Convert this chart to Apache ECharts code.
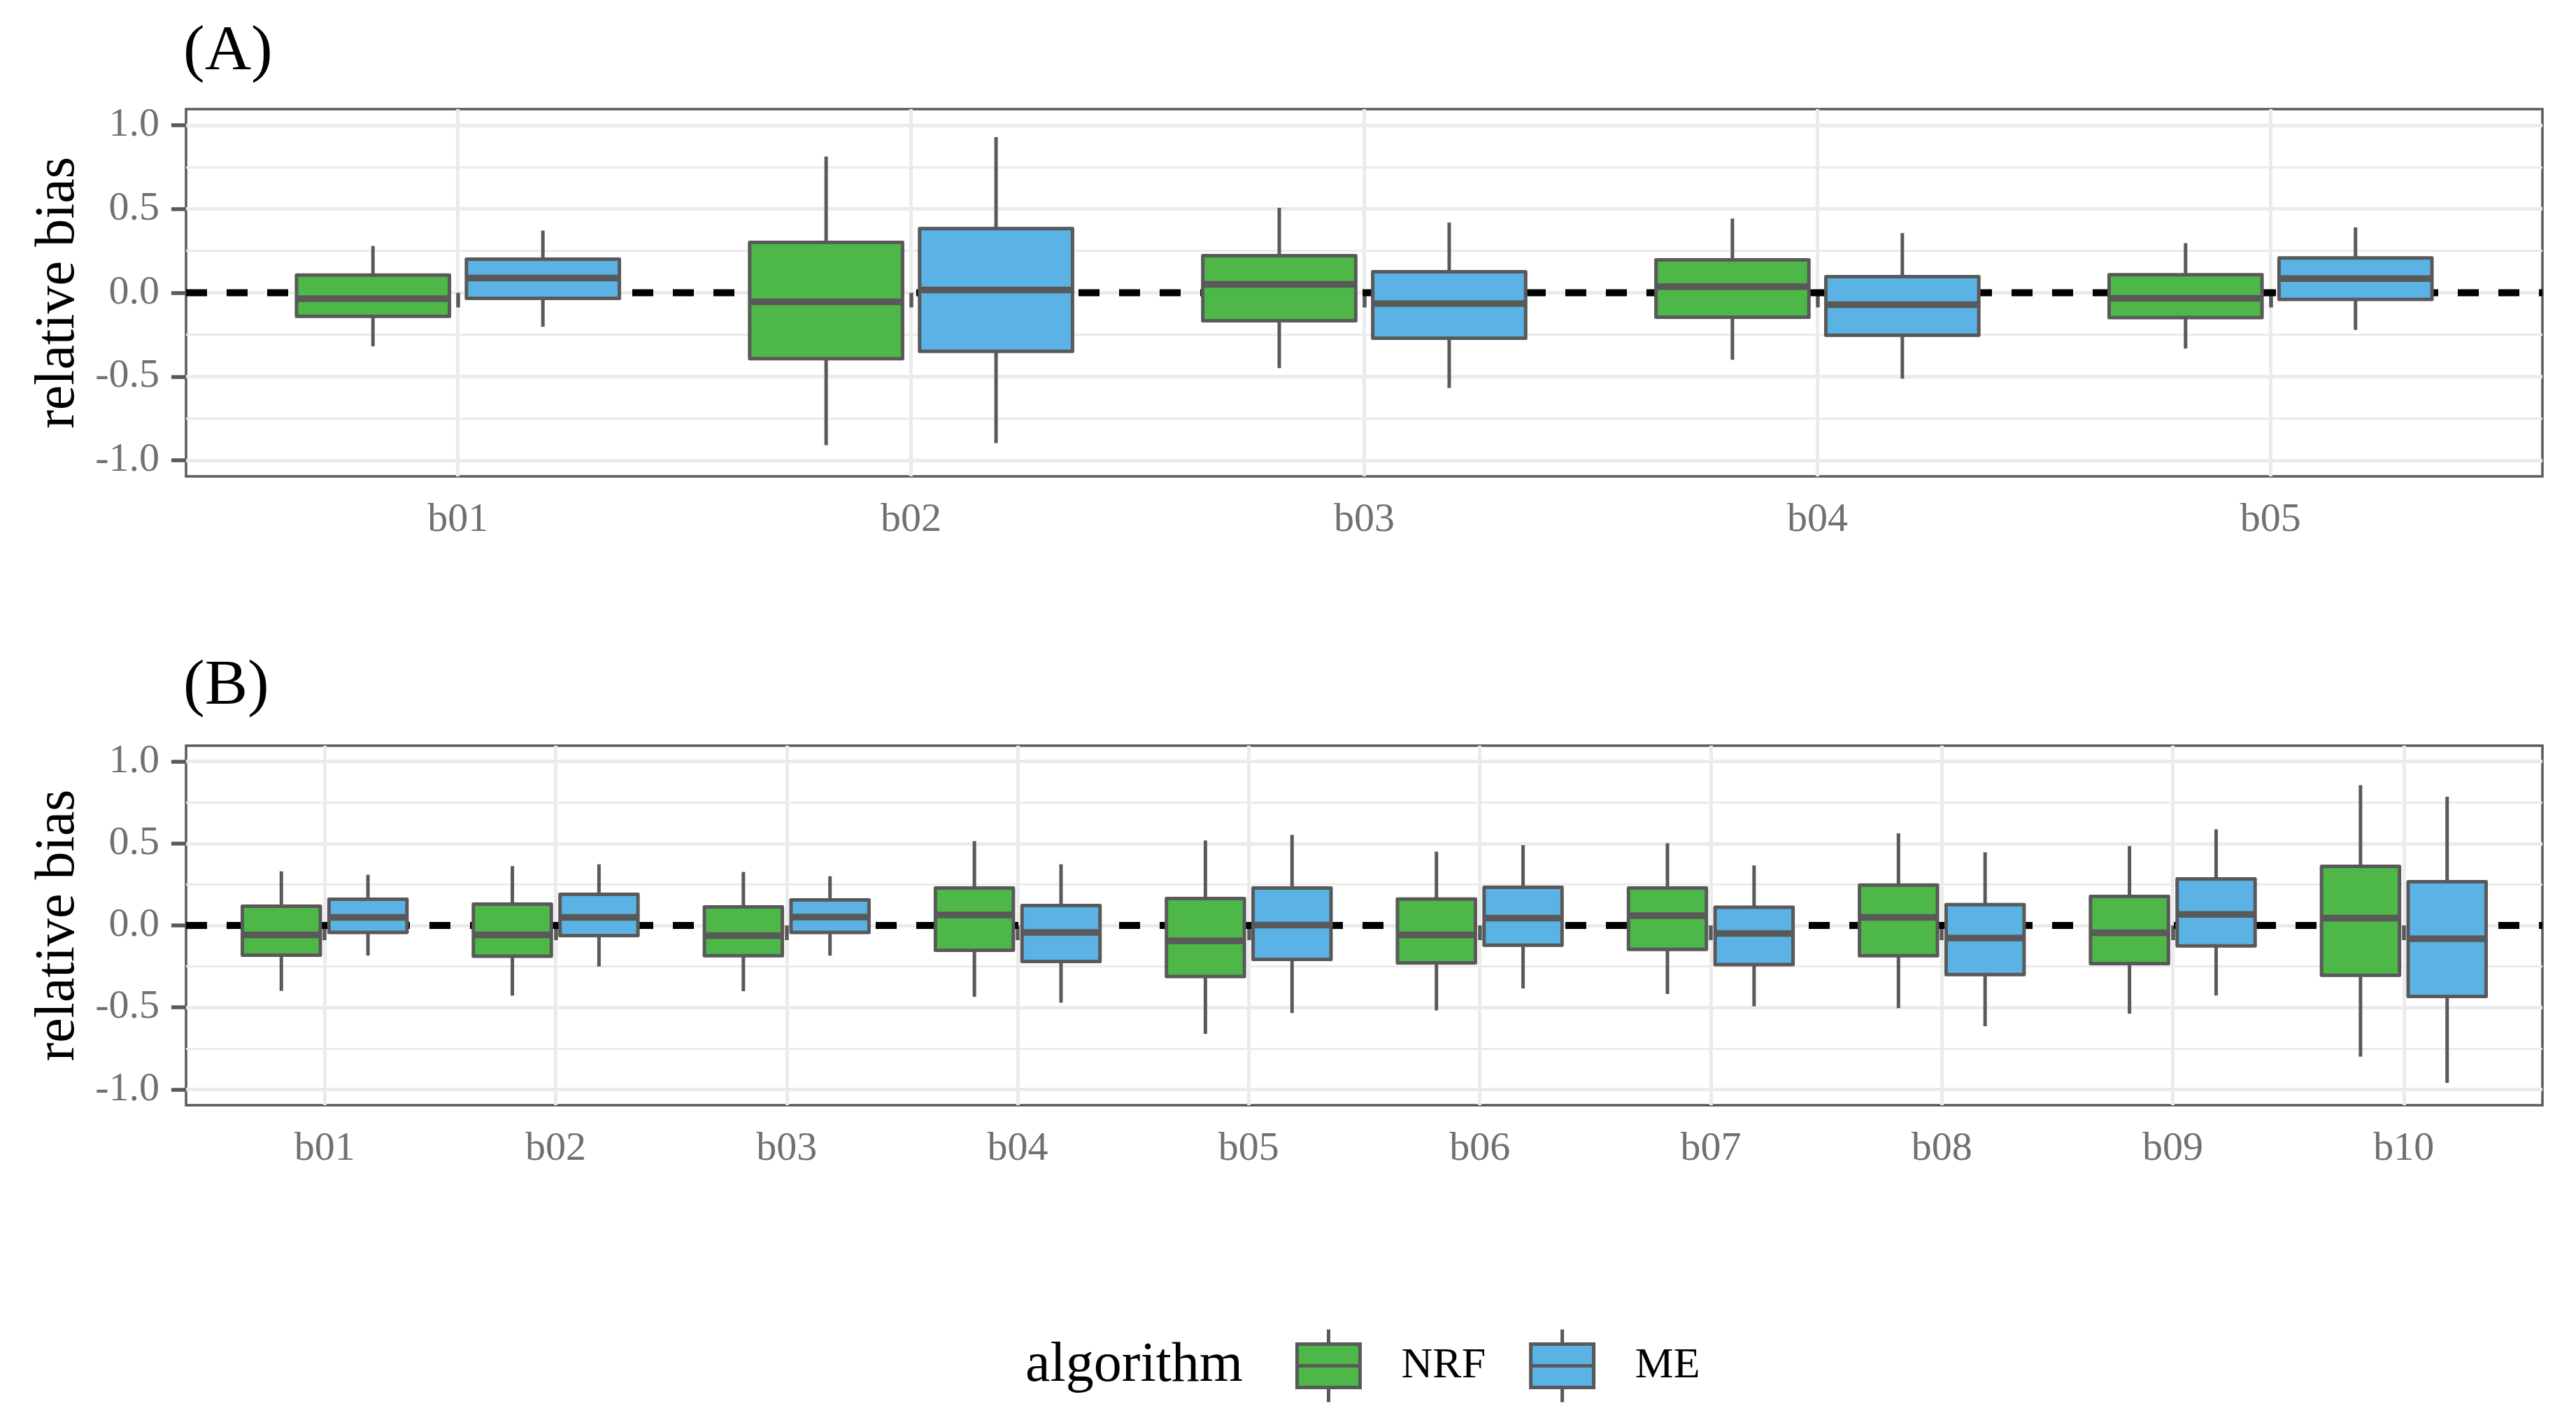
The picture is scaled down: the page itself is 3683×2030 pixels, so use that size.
<!DOCTYPE html>
<html><head><meta charset="utf-8">
<script src="https://cdn.jsdelivr.net/npm/echarts@6/dist/echarts.min.js"></script>
<style>html,body{margin:0;padding:0;background:#fff}#c{width:3683px;height:2030px}</style>
</head><body><div id="c"></div>
<script>
// ---------- data ----------
const panelTitles = ['(A)', '(B)'];
const catsA = ['b01', 'b02', 'b03', 'b04', 'b05'];
const catsB = ['b01', 'b02', 'b03', 'b04', 'b05', 'b06', 'b07', 'b08', 'b09', 'b10'];
const algorithms = ['NRF', 'ME'];
// rows: [lower whisker, Q1, median, Q3, upper whisker]
const nrfA = [
  [-0.320, -0.141, -0.035, 0.105, 0.279],
  [-0.910, -0.393, -0.054, 0.301, 0.813],
  [-0.450, -0.167, 0.050, 0.221, 0.507],
  [-0.400, -0.146, 0.037, 0.196, 0.443],
  [-0.333, -0.148, -0.033, 0.108, 0.296]
];
const meA = [
  [-0.203, -0.033, 0.088, 0.200, 0.371],
  [-0.898, -0.350, 0.017, 0.383, 0.929],
  [-0.568, -0.271, -0.065, 0.125, 0.419],
  [-0.513, -0.254, -0.071, 0.096, 0.356],
  [-0.222, -0.040, 0.085, 0.208, 0.390]
];
const nrfB = [
  [-0.399, -0.181, -0.058, 0.117, 0.330],
  [-0.428, -0.188, -0.058, 0.130, 0.362],
  [-0.401, -0.184, -0.062, 0.113, 0.326],
  [-0.435, -0.151, 0.064, 0.228, 0.514],
  [-0.661, -0.311, -0.094, 0.164, 0.518],
  [-0.518, -0.228, -0.058, 0.161, 0.450],
  [-0.418, -0.146, 0.060, 0.228, 0.501],
  [-0.504, -0.184, 0.049, 0.246, 0.562],
  [-0.538, -0.232, -0.045, 0.177, 0.484],
  [-0.800, -0.304, 0.045, 0.360, 0.855]
];
const meB = [
  [-0.184, -0.043, 0.049, 0.160, 0.309],
  [-0.250, -0.062, 0.049, 0.190, 0.373],
  [-0.184, -0.043, 0.051, 0.156, 0.300],
  [-0.471, -0.220, -0.043, 0.122, 0.373],
  [-0.534, -0.207, 0.002, 0.228, 0.552],
  [-0.384, -0.121, 0.045, 0.232, 0.490],
  [-0.493, -0.239, -0.049, 0.111, 0.366],
  [-0.614, -0.300, -0.077, 0.127, 0.446],
  [-0.427, -0.125, 0.067, 0.284, 0.586],
  [-0.960, -0.433, -0.081, 0.267, 0.785]
];
const yTicks = [-1.0, -0.5, 0.0, 0.5, 1.0];
const yMinor = [-0.75, -0.25, 0.25, 0.75];
const refValue = 0;

// ---------- style ----------
const FONT = '"Liberation Serif", "DejaVu Serif", serif';
const COLORS = { NRF: '#4db848', ME: '#5ab3e4' };
const OUTLINE = '#595959';
const GRIDC = '#ebebeb';
const BOX_W = 0.3375, DODGE = 0.1875, YLIM = 1.096, XPAD = 0.6;
const TICK_FS = 58;

function renderBox(params, api) {
  const x = api.value(0);
  const lo = api.coord([x, api.value(1)]);
  const q1 = api.coord([x, api.value(2)]);
  const md = api.coord([x, api.value(3)]);
  const q3 = api.coord([x, api.value(4)]);
  const hi = api.coord([x, api.value(5)]);
  const w = api.size([BOX_W, 0])[0];
  const cx = q1[0];
  const ls = { stroke: OUTLINE, lineWidth: 5 };
  return {
    type: 'group',
    children: [
      { type: 'line', shape: { x1: cx, y1: hi[1], x2: cx, y2: q3[1] }, style: ls },
      { type: 'line', shape: { x1: cx, y1: q1[1], x2: cx, y2: lo[1] }, style: ls },
      { type: 'rect', shape: { x: cx - w / 2, y: q3[1], width: w, height: q1[1] - q3[1] },
        style: { fill: api.visual('color'), stroke: OUTLINE, lineWidth: 5, lineJoin: 'round' } },
      { type: 'line', shape: { x1: cx - w / 2, y1: md[1], x2: cx + w / 2, y2: md[1] },
        style: { stroke: OUTLINE, lineWidth: 9.5 } }
    ]
  };
}

function boxSeries(name, rows, idx, offset) {
  return {
    type: 'custom', name: name, xAxisIndex: idx, yAxisIndex: idx, z: 5,
    itemStyle: { color: COLORS[name] },
    encode: { x: 0, y: [1, 2, 3, 4, 5] },
    data: rows.map((r, i) => [i + 1 + offset].concat(r)),
    renderItem: renderBox
  };
}

function refSeries(idx, n) {
  return {
    type: 'line', name: 'ref' + idx, xAxisIndex: idx, yAxisIndex: idx, z: 3, silent: true,
    symbol: 'none',
    data: [[1 - XPAD, refValue], [n + XPAD, refValue]],
    lineStyle: { color: '#000', width: 10, type: [30, 28] },
    markLine: {
      silent: true, symbol: 'none', label: { show: false },
      lineStyle: { color: GRIDC, width: 3, type: 'solid' },
      data: yMinor.map(v => ({ yAxis: v }))
    }
  };
}

function xAxis(idx, cats) {
  const vals = cats.map((c, i) => i + 1);
  return {
    type: 'value', gridIndex: idx, min: 1 - XPAD, max: cats.length + XPAD, splitNumber: cats.length,
    axisLine: { show: false },
    axisTick: { show: true, customValues: vals, length: 21, lineStyle: { color: OUTLINE, width: 5.5 } },
    axisLabel: { customValues: vals, margin: 34, fontFamily: FONT, fontSize: TICK_FS, color: '#707070',
      formatter: v => cats[Math.round(v) - 1] || '' },
    splitLine: { show: true, lineStyle: { color: GRIDC, width: 5 } }
  };
}

function yAxis(idx) {
  return {
    type: 'value', gridIndex: idx, min: -YLIM, max: YLIM, splitNumber: 4,
    name: 'relative bias', nameLocation: 'middle', nameGap: 142,
    nameTextStyle: { fontFamily: FONT, fontSize: 80, color: '#000' },
    axisLine: { show: false },
    axisTick: { show: true, customValues: yTicks, length: 21, lineStyle: { color: OUTLINE, width: 5.5 } },
    axisLabel: { customValues: yTicks, margin: 38, fontFamily: FONT, fontSize: TICK_FS, color: '#707070',
      formatter: v => v.toFixed(1) },
    splitLine: { show: true, lineStyle: { color: GRIDC, width: 5 } }
  };
}

const legendIcon = 'path://M45,0L45,21M0,21L90,21L90,83L0,83ZM0,52L90,52M45,83L45,104';
const titleStyle = { fontFamily: FONT, fontSize: 92, fontWeight: 'normal', color: '#000' };

const option = {
  backgroundColor: '#fff',
  animation: false,
  title: [
    { text: panelTitles[0], left: 262, top: 29, padding: 0, textStyle: titleStyle },
    { text: panelTitles[1], left: 262, top: 936, padding: 0, textStyle: titleStyle },
    { text: 'algorithm', left: 1466, top: 1913, padding: 0, textStyle: { fontFamily: FONT, fontSize: 80, fontWeight: 'normal', color: '#000' } }
  ],
  legend: {
    left: 1852, top: 1898, padding: 0, selectedMode: false,
    itemWidth: 90, itemHeight: 104, itemGap: 62,
    data: algorithms.map(a => ({ name: a, icon: legendIcon })),
    itemStyle: { borderColor: OUTLINE, borderWidth: 5 },
    textStyle: { fontFamily: FONT, fontSize: 62, color: '#000', padding: [0, 0, 0, 54] }
  },
  grid: [
    { left: 266, right: 48, top: 156, height: 525, show: true, borderColor: OUTLINE, borderWidth: 3.5, backgroundColor: 'transparent' },
    { left: 266, right: 48, top: 1066, height: 514, show: true, borderColor: OUTLINE, borderWidth: 3.5, backgroundColor: 'transparent' }
  ],
  xAxis: [xAxis(0, catsA), xAxis(1, catsB)],
  yAxis: [yAxis(0), yAxis(1)],
  series: [
    refSeries(0, catsA.length),
    refSeries(1, catsB.length),
    boxSeries('NRF', nrfA, 0, -DODGE),
    boxSeries('ME', meA, 0, DODGE),
    boxSeries('NRF', nrfB, 1, -DODGE),
    boxSeries('ME', meB, 1, DODGE)
  ]
};

const chart = echarts.init(document.getElementById('c'), null, { renderer: 'canvas' });
chart.setOption(option);
</script>
</body></html>
